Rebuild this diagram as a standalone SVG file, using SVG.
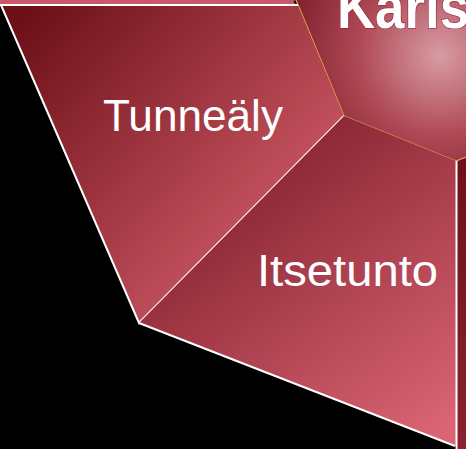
<svg xmlns="http://www.w3.org/2000/svg" width="466" height="449" viewBox="0 0 466 449">
<defs>
<style>
.lbl{font-family:"Liberation Sans","Open Sans",sans-serif;font-size:45px;fill:#ffffff}
.ttl{font-family:"Liberation Sans","Open Sans",sans-serif;font-weight:bold;font-size:61px;fill:#ffffff;stroke:#8a1c2a;stroke-width:1.2;paint-order:stroke}
.edge{stroke:#ffffff;stroke-width:2;fill:none;stroke-linejoin:miter}
</style>
<linearGradient id="gL" gradientUnits="userSpaceOnUse" x1="20" y1="20" x2="300" y2="270">
<stop offset="0" stop-color="#6c1017"/>
<stop offset="1" stop-color="#d45e6c"/>
</linearGradient>
<linearGradient id="gI" gradientUnits="userSpaceOnUse" x1="250" y1="170" x2="440" y2="430">
<stop offset="0" stop-color="#8a2633"/>
<stop offset="1" stop-color="#d96474"/>
</linearGradient>
<radialGradient id="gC" gradientUnits="userSpaceOnUse" cx="440" cy="55" r="165">
<stop offset="0" stop-color="#d89ca4"/>
<stop offset="0.5" stop-color="#ad4854"/>
<stop offset="1" stop-color="#7c1a28"/>
</radialGradient>
<linearGradient id="gR" x1="0" y1="0" x2="0" y2="1">
<stop offset="0" stop-color="#6e1019"/>
<stop offset="1" stop-color="#8a2230"/>
</linearGradient>
</defs>
<rect width="466" height="449" fill="#000000"/>
<g id="node-top">
<polygon points="0,0 296,0 298,5 0,5" fill="#c85a67"/>
</g>
<g id="node-right">
<polygon points="457,161 466,157 466,449 457,449" fill="url(#gR)"/>
</g>
<g id="node-karisma">
<polygon points="296,0 344,116 456,161 466,157 466,0" fill="url(#gC)"/>
<polyline points="296,0 344,116" fill="none" stroke="#000000" stroke-width="2.5" transform="translate(-1.2,0.5)"/>
<polyline points="296,0 344,116 456,161 466,157" fill="none" stroke="#e8a24a" stroke-width="1.3"/>
<text class="ttl" x="337" y="28" textLength="132" lengthAdjust="spacingAndGlyphs">Karis</text>
</g>
<g id="node-tunnealy">
<polygon points="2,6 298,6 344,116 139,323" fill="url(#gL)"/>
<polyline class="edge" points="298,5 0,5"/>
<polyline class="edge" points="1,5 139,323 344,116"/>
<text class="lbl" x="103" y="131" textLength="180" lengthAdjust="spacingAndGlyphs">Tunneäly</text>
</g>
<g id="node-itsetunto">
<polygon points="344,116 456,161 456,446 139,323" fill="url(#gI)"/>
<polyline class="edge" points="139,323 455,446"/>
<line class="edge" x1="456.5" y1="161" x2="456.5" y2="449"/>
<text class="lbl" x="257" y="286" textLength="181" lengthAdjust="spacingAndGlyphs">Itsetunto</text>
</g>
</svg>
